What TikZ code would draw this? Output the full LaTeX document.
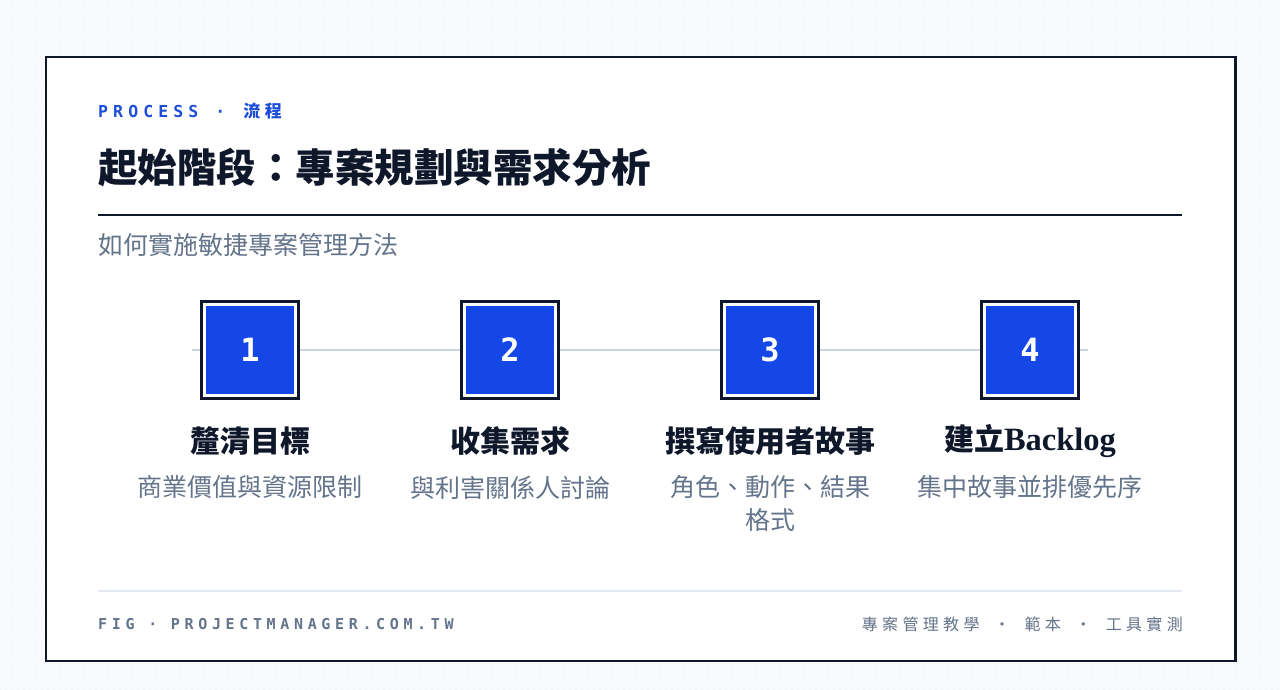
\documentclass[tikz,border=0pt]{standalone}
\usepackage{fontspec}
\setmainfont{Liberation Sans}
\newfontfamily\cjk{Noto Sans CJK TC}
\newfontfamily\cjksp[LetterSpace=27]{Noto Sans CJK TC}
\newfontfamily\monosp[LetterSpace=31]{DejaVu Sans Mono}
\newfontfamily\monofnt{DejaVu Sans Mono}
\newfontfamily\latinserif{Liberation Serif}
\usetikzlibrary{patterns.meta}

\definecolor{ink}{HTML}{0F172A}
\definecolor{accent}{HTML}{1D4ED8}
\definecolor{stepblue}{HTML}{1447E6}
\definecolor{muted}{HTML}{64748B}
\definecolor{rail}{HTML}{CBD5E1}
\definecolor{hair}{HTML}{E2E8F0}
\definecolor{paper}{HTML}{F8FAFC}
\definecolor{dotc}{HTML}{E2E8F0}

\tikzset{
  stepframe/.style={draw=ink, line width=2.5pt, fill=white, minimum size=96.8pt, inner sep=0pt},
  stepbox/.style={fill=stepblue, minimum size=88pt, inner sep=0pt, text=white,
    font=\monofnt\bfseries\fontsize{32}{32}\selectfont},
  steptitle/.style={text=ink, inner sep=0pt, font=\cjk\bfseries\fontsize{30}{36}\selectfont},
  stepnote/.style={text=muted, inner sep=0pt, align=center, anchor=north,
    font=\cjk\fontsize{25}{33}\selectfont},
}

\begin{document}
\begin{tikzpicture}[x=1pt,y=-1pt]
  \useasboundingbox (0,0) rectangle (1280,690);
  % page with faint dot grid
  \fill[paper] (0,0) rectangle (1280,690);
  \fill[pattern={Dots[radius=0.7pt,distance=6pt]}, pattern color=dotc] (0,0) rectangle (1280,690);
  % card
  \draw[ink, line width=2.3pt, fill=white] (45.7,57.2) rectangle (1235.5,661);
  % heading block
  \node[anchor=base west, inner sep=0pt, text=accent] (kicker) at (98,118)
    {{\monosp\bfseries\fontsize{16.5}{16}\selectfont PROCESS\hspace{17pt}·\hspace{18pt}}{\cjksp\bfseries\fontsize{17}{17}\selectfont 流程}};
  \node[anchor=west, inner sep=0pt, text=ink, font=\cjk\bfseries\fontsize{39.5}{40}\selectfont] (title) at (98,167.5)
    {起始階段：專案規劃與需求分析};
  \draw[ink, line width=2pt] (98,215) -- (1182,215);
  \node[anchor=west, inner sep=0pt, text=muted, font=\cjk\fontsize{25}{25}\selectfont] (lede) at (98,245)
    {如何實施敏捷專案管理方法};
  % steps
  \foreach \n/\x in {1/250,2/510,3/770,4/1030} {
    \node[stepframe] (f\n) at (\x,350) {};
    \node[stepbox]   (s\n) at (f\n) {\n};
  }
  \draw[rail, line width=2pt] ([xshift=-8pt]f1.west) -- (f1.west);
  \foreach \a/\b in {1/2,2/3,3/4} \draw[rail, line width=2pt] (f\a) -- (f\b);
  \draw[rail, line width=2pt] (f4.east) -- ([xshift=8pt]f4.east);
  \node[steptitle] (t1) at (250,441) {釐清目標};
  \node[steptitle] (t2) at (510,441) {收集需求};
  \node[steptitle] (t3) at (770,441) {撰寫使用者故事};
  \node[steptitle] (t4) at (1030,441) {建立{\latinserif\fontsize{32.5}{36}\selectfont Backlog}};
  \node[stepnote] (d1) at (250,475.5) {商業價值與資源限制};
  \node[stepnote] (d2) at (510,475.5) {與利害關係人討論};
  \node[stepnote] (d3) at (770,475.5) {角色、動作、結果\\格式};
  \node[stepnote] (d4) at (1030,475.5) {集中故事並排優先序};
  % footer
  \draw[hair, line width=2pt] (98,591) -- (1182,591);
  \node[anchor=west, inner sep=0pt, text=muted, font=\monosp\bfseries\fontsize{15}{15}\selectfont] (figtag) at (98,624)
    {FIG · PROJECTMANAGER.COM.TW};
  \node[anchor=east, inner sep=0pt, text=muted, font=\cjksp\fontsize{16}{16}\selectfont] (topics) at (1183,624)
    {專案管理教學\hspace{14.5pt}·\hspace{14.5pt}範本\hspace{14.5pt}·\hspace{14.5pt}工具實測};
\end{tikzpicture}
\end{document}
